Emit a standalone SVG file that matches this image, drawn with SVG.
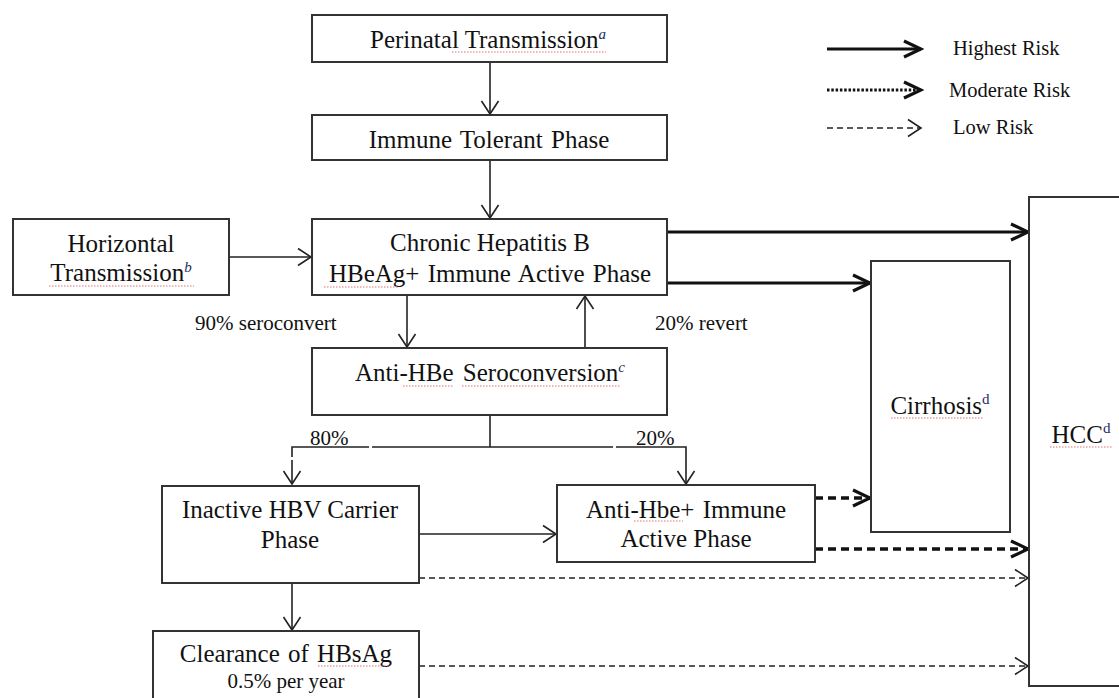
<svg xmlns="http://www.w3.org/2000/svg" width="1119" height="698" viewBox="0 0 1119 698">
<style>
  .box { fill: #fff; stroke: #333; stroke-width: 2; }
  text { font-family: 'Liberation Serif', 'Times New Roman', serif; fill: #111; }
  .t { font-size: 25px; text-anchor: middle; }
  .lbl { font-size: 21px; }
  .leg { font-size: 20.5px; }
  .sup { font-size: 15px; font-style: italic; fill: #1c2b5e; }
  .supd { font-size: 15px; fill: #1c2b5e; }
  .thin { fill: none; stroke: #222; stroke-width: 1.6; }
  .high { fill: none; stroke: #111; stroke-width: 3.2; }
  .mod { fill: none; stroke: #111; stroke-width: 3.4; stroke-dasharray: 8 5; }
  .modleg { fill: none; stroke: #111; stroke-width: 3.2; stroke-dasharray: 2.5 1.8; }
  .low { fill: none; stroke: #222; stroke-width: 1.6; stroke-dasharray: 6 4; }
  .sq { fill: none; stroke: #e07070; stroke-width: 1; stroke-dasharray: 1.5 1.5; }
</style>
<defs>
  <marker id="aThin" markerUnits="userSpaceOnUse" viewBox="0 0 16 20" markerWidth="16" markerHeight="20" refX="14" refY="10" orient="auto">
    <path d="M1,1.5 L14,10 L1,18.5" fill="none" stroke="#222" stroke-width="1.6"/>
  </marker>
  <marker id="aThick" markerUnits="userSpaceOnUse" viewBox="0 0 22 22" markerWidth="22" markerHeight="22" refX="19" refY="11" orient="auto">
    <path d="M2,3 L19,11 L2,19" fill="none" stroke="#111" stroke-width="3.2"/>
  </marker>
</defs>
<rect width="1119" height="698" fill="#fff"/>

<g id="connectors">
  <line class="thin" x1="490" y1="62" x2="490" y2="114" marker-end="url(#aThin)"/>
  <line class="thin" x1="490" y1="160" x2="490" y2="218" marker-end="url(#aThin)"/>
  <line class="thin" x1="229" y1="257" x2="311" y2="257" marker-end="url(#aThin)"/>
  <line class="thin" x1="407" y1="295" x2="407" y2="347" marker-end="url(#aThin)"/>
  <line class="thin" x1="585" y1="348" x2="585" y2="296" marker-end="url(#aThin)"/>
  <line class="thin" x1="490" y1="415" x2="490" y2="447"/>
  <path class="thin" d="M490,447 H372 M369,447 H292 V457 M292,460 V484" marker-end="url(#aThin)"/>
  <path class="thin" d="M490,447 H613 M616,447 H686 V484" marker-end="url(#aThin)"/>
  <line class="thin" x1="419" y1="534" x2="556" y2="534" marker-end="url(#aThin)"/>
  <line class="thin" x1="292" y1="583" x2="292" y2="630" marker-end="url(#aThin)"/>
  <line class="high" x1="667" y1="232" x2="1028" y2="232" marker-end="url(#aThick)"/>
  <line class="high" x1="667" y1="283" x2="870" y2="283" marker-end="url(#aThick)"/>
  <line class="mod" x1="815" y1="498" x2="870" y2="498" marker-end="url(#aThick)"/>
  <line class="mod" x1="815" y1="549" x2="1028" y2="549" marker-end="url(#aThick)"/>
  <line class="low" x1="419" y1="578" x2="1028" y2="578" marker-end="url(#aThin)"/>
  <line class="low" x1="419" y1="666" x2="1028" y2="666" marker-end="url(#aThin)"/>
  <text class="lbl" x="195" y="330">90% seroconvert</text>
  <text class="lbl" x="655" y="330">20% revert</text>
  <text class="lbl" x="310" y="445">80%</text>
  <text class="lbl" x="636" y="445">20%</text>
</g>

<g id="legend">
  <line class="high" x1="827" y1="49" x2="921" y2="49" marker-end="url(#aThick)"/>
  <text class="leg" x="953" y="55">Highest Risk</text>
  <line class="modleg" x1="827" y1="90" x2="921" y2="90" marker-end="url(#aThick)"/>
  <text class="leg" x="949" y="97">Moderate Risk</text>
  <line class="low" x1="827" y1="128" x2="921" y2="128" marker-end="url(#aThin)"/>
  <text class="leg" x="953" y="134">Low Risk</text>
</g>

<g id="perinatal">
  <rect class="box" x="312" y="15" width="355" height="47"/>
  <text class="t" x="488" y="48">Perinatal Transmission<tspan class="sup" dy="-9">a</tspan></text>
  <line class="sq" x1="452" y1="52" x2="606" y2="52"/>
</g>

<g id="immune-tolerant">
  <rect class="box" x="312" y="115" width="355" height="45"/>
  <text class="t" x="489" y="148" word-spacing="2">Immune Tolerant Phase</text>
</g>

<g id="horizontal">
  <rect class="box" x="13" y="219" width="216" height="76"/>
  <text class="t" x="121" y="252">Horizontal</text>
  <text class="t" x="121" y="281">Transmission<tspan class="sup" dy="-9">b</tspan></text>
  <line class="sq" x1="49" y1="286" x2="194" y2="286"/>
</g>

<g id="chronic">
  <rect class="box" x="312" y="219" width="355" height="76"/>
  <text class="t" x="490" y="251">Chronic Hepatitis B</text>
  <text class="t" x="490" y="282" word-spacing="2">HBeAg+ Immune Active Phase</text>
  <line class="sq" x1="324" y1="287" x2="398" y2="287"/>
</g>

<g id="anti-hbe-seroconversion">
  <rect class="box" x="312" y="348" width="355" height="67"/>
  <text class="t" x="490" y="381" word-spacing="3">Anti-HBe Seroconversion<tspan class="sup" dy="-9">c</tspan></text>
  <line class="sq" x1="403" y1="386" x2="453" y2="386"/>
  <line class="sq" x1="462" y1="386" x2="620" y2="386"/>
</g>

<g id="inactive">
  <rect class="box" x="162" y="486" width="257" height="97"/>
  <text class="t" x="290" y="518">Inactive HBV Carrier</text>
  <text class="t" x="290" y="548">Phase</text>
</g>

<g id="anti-hbe-active">
  <rect class="box" x="557" y="485" width="258" height="77"/>
  <text class="t" x="686" y="518" word-spacing="2">Anti-Hbe+ Immune</text>
  <text class="t" x="686" y="547">Active Phase</text>
  <line class="sq" x1="634" y1="521" x2="683" y2="521"/>
</g>

<g id="clearance">
  <rect class="box" x="153" y="631" width="266" height="75"/>
  <text class="t" x="286" y="662" word-spacing="2">Clearance of HBsAg</text>
  <text class="lbl" x="286" y="688" text-anchor="middle">0.5% per year</text>
  <line class="sq" x1="318" y1="666" x2="390" y2="666"/>
</g>

<g id="cirrhosis">
  <rect class="box" x="871" y="261" width="139" height="271"/>
  <text class="t" x="940" y="414">Cirrhosis<tspan class="supd" dy="-10">d</tspan></text>
  <line class="sq" x1="891" y1="418" x2="984" y2="418"/>
</g>

<g id="hcc">
  <rect class="box" x="1029" y="197" width="100" height="489"/>
  <text class="t" x="1081" y="443">HCC<tspan class="supd" dy="-10">d</tspan></text>
  <line class="sq" x1="1050" y1="447" x2="1112" y2="447"/>
</g>
</svg>
